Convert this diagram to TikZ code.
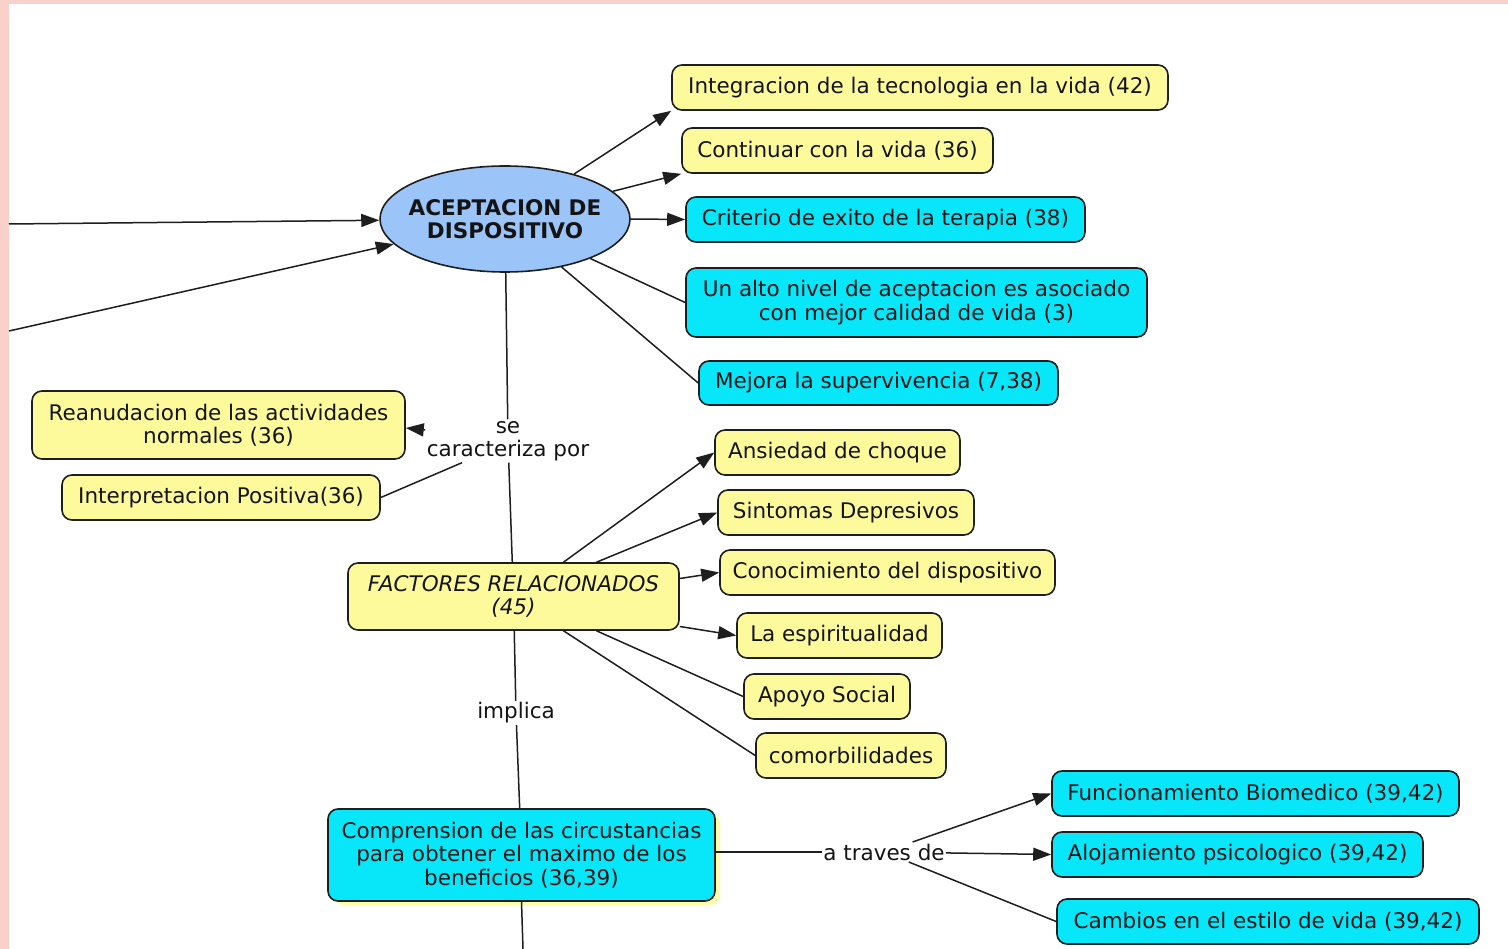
\documentclass[tikz,border=0pt]{standalone}
\usepackage{fontspec}
\setmainfont{DejaVu Sans}
\usetikzlibrary{arrows.meta,shapes.geometric,calc,shadows}

\definecolor{yel}{RGB}{253,250,155}
\definecolor{cyn}{RGB}{8,230,250}
\definecolor{blu}{RGB}{155,196,248}
\definecolor{edge}{RGB}{30,30,30}
\definecolor{ink}{RGB}{20,20,20}
\definecolor{framepink}{RGB}{249,209,202}
\definecolor{glow}{RGB}{255,255,170}

\newcommand{\mapfont}{\fontsize{21.5}{23.5}\selectfont}
% text of zero size, so that the ellipse keeps its given size
\newcommand{\flatlines}[1]{\raisebox{-8.4pt}[0pt][0pt]{\makebox[0pt][c]{\begin{tabular}{@{}c@{}}#1\end{tabular}}}}

\tikzset{
  box/.style={rectangle, rounded corners=10pt, draw=edge, line width=1.6pt,
    text=ink, align=center, inner sep=0pt, font=\mapfont},
  ybox/.style={box, fill=yel},
  cbox/.style={box, fill=cyn},
  ell/.style={ellipse, draw=edge, line width=1.6pt, fill=blu, text=ink,
    inner sep=0pt, font=\mapfont\bfseries},
  lbl/.style={fill=white, inner sep=1.5pt, text=ink, align=center, font=\mapfont},
  arr/.style={draw=edge, line width=1.5pt, -{Triangle[length=18pt,width=13pt]}},
  ln/.style={draw=edge, line width=1.5pt},
}

\begin{document}
\begin{tikzpicture}[x=1pt,y=-1pt]
\useasboundingbox (0,0) rectangle (1508,949);
\fill[white] (0,0) rectangle (1508,949);
% pink frame along the top and left edges
\fill[framepink] (0,0) rectangle (1508,4);
\fill[framepink] (0,0) rectangle (9,949);

% central concept
\node[ell, minimum width=250pt, minimum height=106pt] (E) at (505,219) {\flatlines{ACEPTACION DE\\DISPOSITIVO}};

% right branch of the central concept
\node[ybox, minimum width=496pt, minimum height=45pt] (N1) at (920,87.5) {Integracion de la tecnologia en la vida (42)};
\node[ybox, minimum width=311pt, minimum height=45pt] (N2) at (837.5,150.5) {Continuar con la vida (36)};
\node[cbox, minimum width=399pt, minimum height=45pt] (N3) at (885.5,219.5) {Criterio de exito de la terapia (38)};
\node[cbox, minimum width=461pt, minimum height=69pt] (N4) at (916.5,302.5) {Un alto nivel de aceptacion es asociado\\con mejor calidad de vida (3)};
\node[cbox, minimum width=359pt, minimum height=44pt] (N5) at (878.5,383) {Mejora la supervivencia (7,38)};

% characteristics
\node[lbl] (L1) at (508,441) {se\\caracteriza por};
\node[ybox, minimum width=373pt, minimum height=68pt] (R1) at (218.5,425) {Reanudacion de las actividades\\normales (36)};
\node[ybox, minimum width=318pt, minimum height=45pt] (R2) at (221,497.5) {Interpretacion Positiva(36)};

% related factors
\node[ybox, minimum width=331pt, minimum height=67pt, font=\mapfont\itshape] (F) at (513.5,596.5) {FACTORES RELACIONADOS\\(45)};
\node[ybox, minimum width=245pt, minimum height=45pt] (F1) at (837.5,452.5) {Ansiedad de choque};
\node[ybox, minimum width=256pt, minimum height=45pt] (F2) at (846,512.5) {Sintomas Depresivos};
\node[ybox, minimum width=335pt, minimum height=45pt] (F3) at (887.5,572.5) {Conocimiento del dispositivo};
\node[ybox, minimum width=205pt, minimum height=45pt] (F4) at (839.5,635.5) {La espiritualidad};
\node[ybox, minimum width=166pt, minimum height=45pt] (F5) at (827,696.5) {Apoyo Social};
\node[ybox, minimum width=190pt, minimum height=45pt] (F6) at (851,755.5) {comorbilidades};

% understanding of circumstances
\node[lbl] (I) at (516,713) {implica};
\node[cbox, minimum width=387pt, minimum height=92pt,
  copy shadow={shadow xshift=5pt, shadow yshift=-4pt, fill=glow, draw=none}] (C) at (521.5,855)
  {Comprension de las circustancias\\para obtener el maximo de los\\beneficios (36,39)};
\node[lbl, inner xsep=1pt] (A) at (884,852) {a traves de};
\node[cbox, minimum width=407pt, minimum height=45pt] (B1) at (1255.5,793.5) {Funcionamiento Biomedico (39,42)};
\node[cbox, minimum width=371pt, minimum height=45pt] (B2) at (1237.5,854.5) {Alojamiento psicologico (39,42)};
\node[cbox, minimum width=422pt, minimum height=45pt] (B3) at (1268,921.5) {Cambios en el estilo de vida (39,42)};

% loose ends entering and leaving the visible area
\coordinate (in1) at (9,224);
\coordinate (in2) at (9,331);
\coordinate (out1) at (523,949);

% connectors
\draw[arr] (in1) -- (E);
\draw[arr] (in2) -- (E);
\draw[arr] (E) -- (N1.south west);
\draw[arr] (E) -- (N2.south west);
\draw[arr] (E.east) -- (N3.west);
\draw[ln] (E) -- (N4.west);
\draw[ln] (E) -- (N5.west);

\draw[ln] (E) -- (L1);
\draw[arr] ($(L1.west)+(0,-11)$) -- ($(R1.east)+(0,3)$);
\draw[ln] ($(L1.south)+(-46,0)$) -- (R2.east);
\draw[ln] (L1) -- (F);

\draw[arr] ($(F.north)+(50,0)$) -- (F1.west);
\draw[arr] ($(F.north)+(83,0)$) -- (F2.west);
\draw[arr] ($(F.east)+(0,-18)$) -- (F3.west);
\draw[arr] ($(F.east)+(0,30)$) -- (F4.west);
\draw[ln] ($(F.south)+(83,0)$) -- (F5.west);
\draw[ln] ($(F.south)+(50,0)$) -- (F6.west);

\draw[ln] (F) -- (I);
\draw[ln] (I) -- (C);
\draw[ln] (C.east |- A) -- (A);
\draw[arr] (A) -- (B1.west);
\draw[arr] (A) -- (B2.west);
\draw[ln] (A) -- (B3.west);
\draw[ln] (C.south) -- (out1);
\end{tikzpicture}
\end{document}
